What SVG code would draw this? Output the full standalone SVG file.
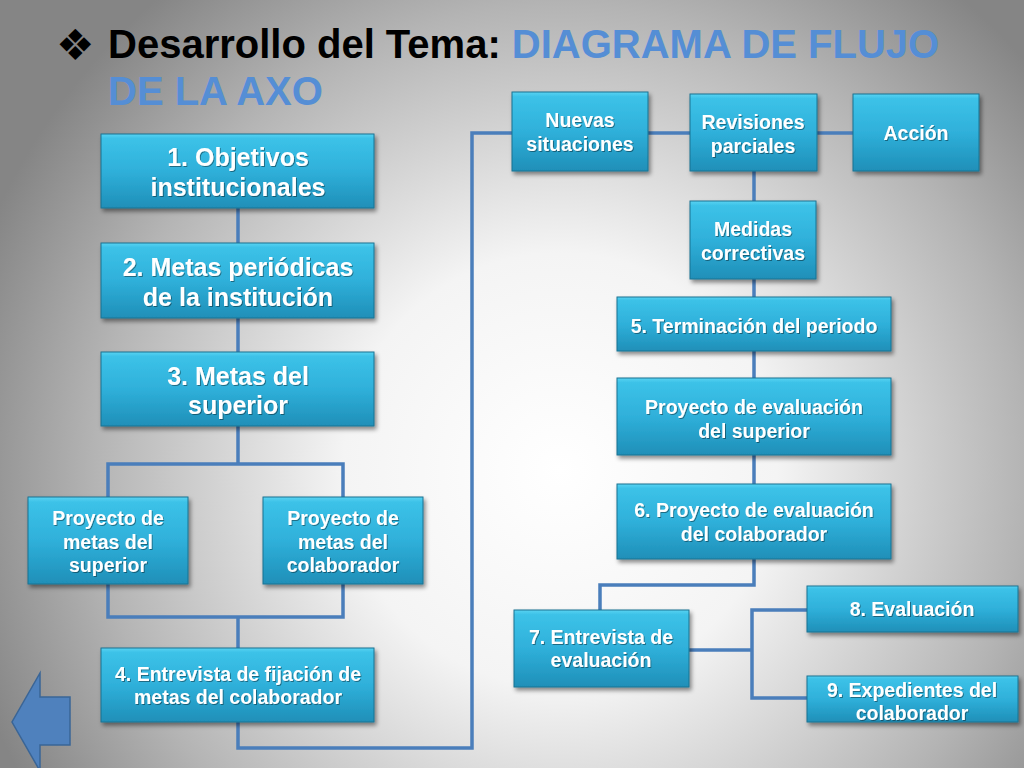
<svg xmlns="http://www.w3.org/2000/svg" width="1024" height="768" viewBox="0 0 1024 768">
  <defs>
    <radialGradient id="bg" cx="560" cy="470" r="620" gradientUnits="userSpaceOnUse">
      <stop offset="0" stop-color="#ffffff"/>
      <stop offset="0.35" stop-color="#f4f4f4"/>
      <stop offset="0.75" stop-color="#b4b4b4"/>
      <stop offset="1" stop-color="#858585"/>
    </radialGradient>
    <linearGradient id="boxg" x1="0" y1="0" x2="0" y2="1">
      <stop offset="0" stop-color="#5ad3f2"/>
      <stop offset="0.06" stop-color="#3cc2e8"/>
      <stop offset="0.5" stop-color="#2fb0da"/>
      <stop offset="1" stop-color="#1f8fb8"/>
    </linearGradient>
    <filter id="shadow" x="-10%" y="-10%" width="125%" height="135%">
      <feDropShadow dx="2" dy="3" stdDeviation="2" flood-color="#000" flood-opacity="0.45"/>
    </filter>
    <filter id="tshadow" x="-5%" y="-20%" width="110%" height="140%">
      <feDropShadow dx="1" dy="1" stdDeviation="0.6" flood-color="#000" flood-opacity="0.4"/>
    </filter>
  </defs>
  <style>
    .box { fill: url(#boxg); stroke: #1b7392; stroke-width: 1; filter: url(#shadow); }
    .lbl { font-family: "Liberation Sans", Arial, sans-serif; font-weight: bold; fill: #ffffff; text-anchor: middle; filter: url(#tshadow); }
    .big { font-size: 25px; }
    .sm { font-size: 19.5px; }
    .conn { fill: none; stroke: #4a7ebb; stroke-width: 3.5; stroke-linejoin: miter; }
    .title { font-family: "Liberation Sans", Arial, sans-serif; font-weight: bold; font-size: 40px; }
  </style>

  <rect x="0" y="0" width="1024" height="768" fill="url(#bg)"/>

  <g id="title">
    <text x="56" y="60" font-family="DejaVu Sans, sans-serif" font-size="43" fill="#000">❖</text>
    <text class="title" x="108" y="58" fill="#000">Desarrollo del Tema: <tspan fill="#558ed5">DIAGRAMA DE FLUJO</tspan></text>
    <text class="title" x="108" y="105" fill="#558ed5">DE LA AXO</text>
  </g>

  <g id="connectors">
    <path class="conn" d="M238 208 V243"/>
    <path class="conn" d="M238 318 V352"/>
    <path class="conn" d="M238 426 V464"/>
    <path class="conn" d="M108 497 V464 H343 V497"/>
    <path class="conn" d="M108 584 V617 H343 V584"/>
    <path class="conn" d="M238 617 V648"/>
    <path class="conn" d="M238 722 V748 H472 V133 H512"/>
    <path class="conn" d="M648 133 H690"/>
    <path class="conn" d="M817 133 H853"/>
    <path class="conn" d="M754 171 V201"/>
    <path class="conn" d="M754 279 V297"/>
    <path class="conn" d="M754 351 V378"/>
    <path class="conn" d="M754 455 V484"/>
    <path class="conn" d="M754 559 V585 H600 V610"/>
    <path class="conn" d="M689 650 H752"/>
    <path class="conn" d="M807 610 H752 V698 H807"/>
  </g>

  <g id="n1">
    <rect class="box" x="101" y="134" width="273" height="74"/>
    <text class="lbl big" x="238" y="166">1. Objetivos</text>
    <text class="lbl big" x="238" y="196">institucionales</text>
  </g>
  <g id="n2">
    <rect class="box" x="101" y="243" width="273" height="75"/>
    <text class="lbl big" x="238" y="276">2. Metas periódicas</text>
    <text class="lbl big" x="238" y="306">de la institución</text>
  </g>
  <g id="n3">
    <rect class="box" x="101" y="352" width="273" height="74"/>
    <text class="lbl big" x="238" y="385">3. Metas del</text>
    <text class="lbl big" x="238" y="414">superior</text>
  </g>
  <g id="n3a">
    <rect class="box" x="28" y="497" width="160" height="87"/>
    <text class="lbl sm" x="108" y="525">Proyecto de</text>
    <text class="lbl sm" x="108" y="549">metas del</text>
    <text class="lbl sm" x="108" y="572">superior</text>
  </g>
  <g id="n3b">
    <rect class="box" x="263" y="497" width="160" height="87"/>
    <text class="lbl sm" x="343" y="525">Proyecto de</text>
    <text class="lbl sm" x="343" y="549">metas del</text>
    <text class="lbl sm" x="343" y="572">colaborador</text>
  </g>
  <g id="n4">
    <rect class="box" x="101" y="648" width="273" height="74"/>
    <text class="lbl sm" x="238" y="681">4. Entrevista de fijación de</text>
    <text class="lbl sm" x="238" y="704">metas del colaborador</text>
  </g>

  <g id="nuevas">
    <rect class="box" x="512" y="92" width="136" height="79"/>
    <text class="lbl sm" x="580" y="127">Nuevas</text>
    <text class="lbl sm" x="580" y="151">situaciones</text>
  </g>
  <g id="revisiones">
    <rect class="box" x="690" y="94" width="127" height="77"/>
    <text class="lbl sm" x="753" y="129">Revisiones</text>
    <text class="lbl sm" x="753" y="153">parciales</text>
  </g>
  <g id="accion">
    <rect class="box" x="853" y="94" width="126" height="77"/>
    <text class="lbl sm" x="916" y="140">Acción</text>
  </g>
  <g id="medidas">
    <rect class="box" x="690" y="201" width="126" height="78"/>
    <text class="lbl sm" x="753" y="236">Medidas</text>
    <text class="lbl sm" x="753" y="260">correctivas</text>
  </g>
  <g id="n5">
    <rect class="box" x="617" y="297" width="274" height="54"/>
    <text class="lbl sm" x="754" y="333">5. Terminación del periodo</text>
  </g>
  <g id="n5a">
    <rect class="box" x="617" y="378" width="274" height="77"/>
    <text class="lbl sm" x="754" y="414">Proyecto de evaluación</text>
    <text class="lbl sm" x="754" y="438">del superior</text>
  </g>
  <g id="n6">
    <rect class="box" x="617" y="484" width="274" height="75"/>
    <text class="lbl sm" x="754" y="517">6. Proyecto de evaluación</text>
    <text class="lbl sm" x="754" y="541">del colaborador</text>
  </g>
  <g id="n7">
    <rect class="box" x="514" y="610" width="175" height="77"/>
    <text class="lbl sm" x="601" y="644">7. Entrevista de</text>
    <text class="lbl sm" x="601" y="667">evaluación</text>
  </g>
  <g id="n8">
    <rect class="box" x="807" y="586" width="211" height="46"/>
    <text class="lbl sm" x="912" y="616">8. Evaluación</text>
  </g>
  <g id="n9">
    <rect class="box" x="807" y="676" width="211" height="46"/>
    <text class="lbl sm" x="912" y="697">9. Expedientes del</text>
    <text class="lbl sm" x="912" y="720">colaborador</text>
  </g>

  <g id="back-arrow">
    <path d="M70 697 H40 V673 L12 722 L40 771 V745 H70 Z" fill="#4f81bd" stroke="#3a6596" stroke-width="1.5"/>
  </g>
</svg>
